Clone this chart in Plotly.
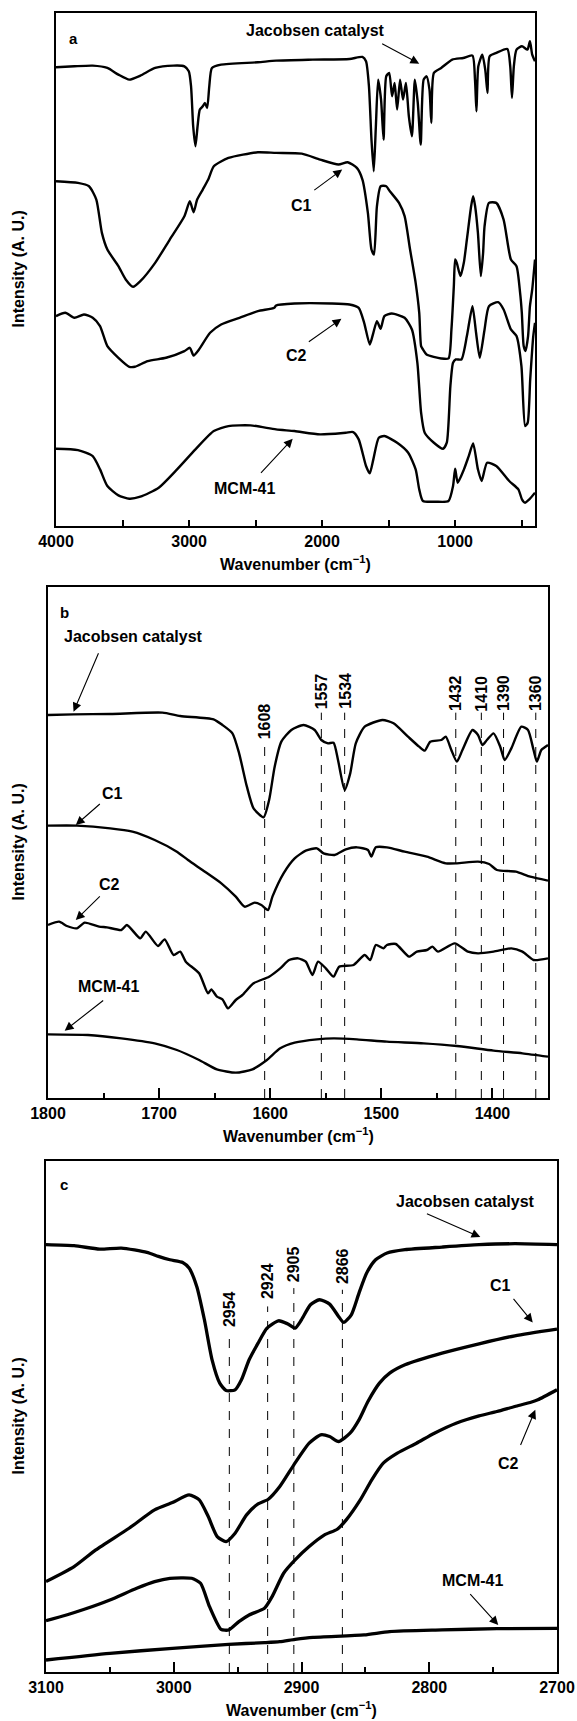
import plotly.graph_objects as go

W, H = 577, 1721
FONT = "Liberation Sans, Arial, sans-serif"

# ---------------- Panel a (4000-400 cm-1) ----------------
a_jac_wn = [4000,3862,3724,3614,3531,3449,3366,3255,3118,3035,3002,2985,2969,2952,2936,2919,2897,2881,2864,2848,
            2828,2759,2483,2346,2070,1794,1697,1670,1648,1629,1612,1596,1579,1557,1538,1518,1496,1474,1455,1436,
            1414,1392,1370,1348,1325,1303,1281,1259,1237,1215,1193,1179,1160,1105,1022,939,870,851,840,826,
            796,774,757,741,691,608,586,573,559,539,498,457,438,421,400]
a_jac_int = [1377,1380,1382,1375,1355,1340,1352,1375,1382,1380,1365,1320,1200,1140,1200,1250,1260,1270,1255,1320,
             1375,1385,1392,1397,1400,1402,1408,1395,1320,1160,1065,1200,1340,1280,1160,1350,1360,1290,1330,1250,
             1340,1280,1330,1230,1170,1340,1270,1145,1340,1350,1310,1210,1360,1375,1400,1405,1412,1340,1245,1380,
             1415,1370,1300,1410,1420,1432,1380,1285,1380,1430,1440,1430,1455,1415,1395]

a_c1_wn = [4000,3835,3752,3697,3655,3614,3531,3476,3421,3366,3255,3145,3035,2994,2966,2939,2897,2856,2814,2704,
           2483,2346,2153,2015,1877,1808,1739,1697,1656,1629,1610,1588,1560,1518,1491,1422,1380,1339,1297,1270,
           1256,1242,1215,1105,1050,1028,1010,1000,988,960,935,912,880,865,850,829,807,790,779,746,
           691,636,581,539,512,499,485,471,452,438,421,400]
a_c1_int = [1035,1030,1020,980,880,830,780,740,718,735,790,860,930,975,942,980,1010,1040,1080,1105,
            1122,1120,1118,1100,1085,1092,1075,1040,940,830,815,960,1020,1020,1005,970,930,830,730,640,
            540,530,515,503,503,590,720,800,790,750,790,860,960,990,960,880,750,820,900,970,
            970,920,800,780,700,640,540,525,570,660,710,800]

a_c2_wn = [4000,3930,3862,3790,3724,3669,3614,3531,3449,3407,3311,3173,3035,2994,2966,2925,2842,2759,2621,2483,
           2359,2346,2208,1932,1794,1725,1684,1642,1615,1588,1560,1532,1477,1380,1325,1284,1256,1229,1160,1091,
           1063,1036,1016,995,953,912,870,843,815,779,746,677,636,581,539,502,474,455,436,413,400]
a_c2_int = [630,640,625,635,625,600,540,505,478,478,495,505,525,535,512,530,580,605,625,645,
            655,662,668,668,665,655,610,545,580,615,592,630,638,625,590,490,340,280,250,232,
            250,420,490,500,500,570,660,580,505,590,660,672,650,590,570,480,300,310,440,570,610]

a_mcm_wn = [4000,3835,3724,3669,3614,3531,3449,3366,3228,3090,2952,2814,2704,2539,2346,2208,2015,1822,1767,1725,
            1670,1642,1615,1574,1532,1436,1353,1297,1270,1242,1146,1050,1016,1000,981,934,898,865,829,801,
            760,691,594,525,498,476,443,400]
a_mcm_int = [232,228,210,170,120,92,82,88,115,170,230,285,300,302,290,285,275,280,282,260,
             180,158,200,265,270,250,220,170,110,75,73,75,120,172,130,170,210,248,170,135,
             190,180,135,110,80,70,80,100]

# ---------------- Panel b (1800-1350 cm-1) ----------------
b_jac_wn = [1800,1777,1744,1697,1681,1651,1643,1634,1628,1621,1615,1606,1601,1596,1590,1581,1570,1560,1554,1548,
            1543,1539,1533,1528,1523,1515,1499,1489,1476,1466,1461,1456,1446,1442,1437,1432,1427,1418,1413,1409,
            1405,1399,1393,1389,1383,1374,1368,1363,1360,1356,1350]
b_jac_int = [1149,1151,1152,1156,1146,1136,1119,1094,1034,934,869,842,894,994,1069,1104,1119,1104,1074,1064,
             1066,1014,924,974,1064,1114,1134,1124,1084,1054,1042,1069,1074,1084,1044,1009,1044,1104,1089,1059,
             1074,1094,1054,1014,1049,1114,1104,1044,1009,1044,1059]

b_c1_wn = [1800,1774,1744,1724,1704,1684,1674,1661,1644,1631,1623,1614,1608,1602,1598,1588,1578,1568,1558,1552,
           1542,1532,1522,1512,1509,1505,1495,1479,1459,1442,1432,1413,1403,1396,1379,1366,1350]
b_c1_int = [817,817,809,799,774,739,714,684,644,604,574,586,579,564,604,674,719,742,749,734,
            729,746,752,744,724,752,752,739,724,704,704,709,702,684,679,664,652]

b_c2_wn = [1800,1790,1783,1774,1767,1754,1747,1734,1729,1717,1712,1701,1695,1687,1681,1676,1664,1656,1653,1648,
           1643,1638,1631,1625,1615,1601,1591,1583,1575,1568,1562,1557,1550,1543,1538,1525,1515,1510,1505,1498,
           1495,1487,1475,1468,1459,1454,1449,1434,1422,1413,1399,1383,1373,1363,1350]
b_c2_int = [519,529,516,509,526,514,512,504,519,479,499,456,476,429,439,409,374,314,326,304,
            296,269,294,309,344,364,389,414,419,409,369,409,389,364,394,399,429,414,459,449,
            459,462,424,439,444,454,439,464,439,434,439,449,439,414,419]

b_mcm_wn = [1800,1764,1734,1704,1684,1664,1648,1631,1616,1603,1591,1578,1558,1543,1522,1495,1462,1432,1399,1373,1350]
b_mcm_int = [191,189,179,164,144,114,86,76,86,114,149,166,176,179,176,169,164,156,142,134,124]

b_peak_pos = [1605, 1554, 1533, 1433, 1410, 1390, 1361]
b_peak_labels = ["1608", "1557", "1534", "1432", "1410", "1390", "1360"]
b_line_top = [1069, 1156, 1156, 1156, 1156, 1156, 1156]
b_label_y = [1129, 1221, 1221, 1214, 1214, 1214, 1214]

# ---------------- Panel c (3100-2700 cm-1) ----------------
c_jac_wn = [3100,3078,3058,3041,3021,3012,3003,2993,2988,2982,2976,2970,2964,2959,2952,2947,2941,2934,2927,2918,
            2911,2905,2900,2893,2886,2878,2871,2867,2861,2855,2849,2842,2833,2819,2790,2761,2733,2700]
c_jac_int = [1281,1278,1268,1271,1258,1246,1236,1228,1211,1156,1056,936,866,844,846,876,936,986,1031,1053,
             1044,1031,1056,1101,1116,1103,1066,1048,1071,1136,1196,1236,1256,1266,1274,1281,1284,1281]

c_c1_wn = [3100,3078,3061,3035,3015,3001,2988,2980,2973,2966,2959,2952,2943,2934,2926,2917,2906,2894,2885,2878,
           2871,2862,2855,2848,2839,2831,2819,2790,2761,2733,2700]
c_c1_int = [271,316,366,431,486,508,531,516,466,406,391,416,471,504,518,556,621,686,711,706,
            691,716,756,811,866,896,921,956,984,1008,1028]

c_c2_wn = [3100,3084,3070,3050,3029,3015,3003,2986,2979,2972,2963,2957,2949,2941,2929,2923,2914,2905,2894,2882,
           2872,2865,2854,2845,2836,2825,2810,2796,2779,2761,2747,2733,2721,2715,2700]
c_c2_int = [154,171,188,216,251,271,281,281,266,196,128,126,151,171,191,226,296,336,376,411,
            428,456,516,576,626,656,686,716,746,768,781,796,808,816,846]

c_mcm_wn = [3100,3050,3001,2957,2929,2917,2905,2891,2851,2831,2790,2747,2700]
c_mcm_int = [36,56,71,83,88,91,98,104,111,121,126,130,131]

c_peak_pos = [2956.5, 2926.5, 2906, 2868]
c_peak_labels = ["2954", "2924", "2905", "2866"]
c_line_top = [1006, 1096, 1151, 1146]
c_label_y = [1089, 1171, 1222, 1218]

# sample labels: (text, x, y, arrow tail x, tail y, head x, head y)
a_labels = [("Jacobsen catalyst", 2048, 1488, 1560, 1450, 1270, 1388),
            ("C1", 2158, 962, 2070, 1005, 1849, 1070),
            ("C2", 2194, 512, 2111, 550, 1855, 622),
            ("MCM-41", 2585, 112, 2470, 155, 2221, 262)]
b_labels = [("Jacobsen catalyst", 1723, 1384, 1754, 1339, 1777, 1159),
            ("C1", 1742, 914, 1752, 886, 1775, 819),
            ("C2", 1745, 641, 1752, 609, 1775, 534),
            ("MCM-41", 1746, 334, 1749, 296, 1785, 202)]
c_labels = [("Jacobsen catalyst", 2772, 1411, 2803, 1376, 2760, 1304),
            ("C1", 2744, 1159, 2735, 1123, 2719, 1048),
            ("C2", 2738, 626, 2729, 676, 2717, 786),
            ("MCM-41", 2766, 273, 2769, 238, 2746, 141)]

panel_letters = [("a", 3868, 1462), ("b", 1785, 1457), ("c", 3086, 1461)]

# pixel layout of the three plot boxes (left, right, top, bottom)
boxes = [(56, 535, 13, 526), (48, 548, 587, 1098), (46, 557, 1161, 1672)]
yranges = [[0, 1540], [0, 1533], [0, 1532]]
xranges = [[4000, 400], [1800, 1350], [3100, 2700]]

fig = go.Figure()
bold = dict(family=FONT, size=16, color="black", weight="bold")

panels = [
    [(a_jac_wn, a_jac_int), (a_c1_wn, a_c1_int), (a_c2_wn, a_c2_int), (a_mcm_wn, a_mcm_int)],
    [(b_jac_wn, b_jac_int), (b_c1_wn, b_c1_int), (b_c2_wn, b_c2_int), (b_mcm_wn, b_mcm_int)],
    [(c_jac_wn, c_jac_int), (c_c1_wn, c_c1_int), (c_c2_wn, c_c2_int), (c_mcm_wn, c_mcm_int)],
]
widths = [2.4, 2.4, 3.3]
for i, series in enumerate(panels):
    xa = "x" if i == 0 else f"x{i+1}"
    ya = "y" if i == 0 else f"y{i+1}"
    for xs, ys in series:
        fig.add_trace(go.Scatter(x=xs, y=ys, mode="lines", xaxis=xa, yaxis=ya,
                                 line=dict(color="black", width=widths[i], shape="spline", smoothing=0.6),
                                 showlegend=False, hoverinfo="skip"))

tick_specs = [
    dict(tickvals=[4000, 3000, 2000, 1000],
         ticktext=["4000", "3000", "2000", "1000"], ticklen=6,
         minor=dict(tickvals=[3500, 2500, 1500, 500], ticks="inside", ticklen=6, tickwidth=2, tickcolor="black")),
    dict(tickvals=[1800, 1700, 1600, 1500, 1400],
         ticktext=["1800", "1700", "1600", "1500", "1400"], ticklen=10,
         minor=dict(tickvals=[1750, 1650, 1550, 1450], ticks="inside", ticklen=5, tickwidth=2, tickcolor="black")),
    dict(tickvals=[3100, 3000, 2900, 2800, 2700],
         ticktext=["3100", "3000", "2900", "2800", "2700"], ticklen=10,
         minor=dict(tickvals=[3050, 2950, 2850, 2750], ticks="inside", ticklen=5, tickwidth=2, tickcolor="black")),
]

layout = dict(width=W, height=H, margin=dict(l=0, r=0, t=0, b=0, autoexpand=False),
              plot_bgcolor="white", paper_bgcolor="white", showlegend=False)
annotations = []
shapes = []
for i, (l, r, t, b) in enumerate(boxes):
    sfx = "" if i == 0 else str(i + 1)
    ts = tick_specs[i]
    xax = dict(domain=[l / W, r / W], anchor="y" + sfx, range=xranges[i], automargin=False,
               tickmode="array", tickvals=ts["tickvals"], ticktext=ts["ticktext"],
               ticks="inside", ticklen=ts["ticklen"], tickwidth=2, tickcolor="black",
               tickfont=bold, showline=True, mirror=True, linewidth=2, linecolor="black",
               showgrid=False, zeroline=False, fixedrange=True, minor=ts["minor"])
    yax = dict(domain=[1 - b / H, 1 - t / H], anchor="x" + sfx, range=yranges[i], automargin=False,
               showticklabels=False, ticks="", showline=True, mirror=True, linewidth=2,
               linecolor="black", showgrid=False, zeroline=False, fixedrange=True)
    layout["xaxis" + sfx] = xax
    layout["yaxis" + sfx] = yax
    # axis titles
    annotations.append(dict(xref="paper", yref="paper", x=((l + r) / 2) / W, y=1 - (b + 37) / H,
                            text="Wavenumber (cm<sup>\u22121</sup>)", showarrow=False,
                            xanchor="center", yanchor="middle", font=bold))
    annotations.append(dict(xref="paper", yref="paper", x=18 / W, y=1 - ((t + b) / 2) / H,
                            text="Intensity (A. U.)", textangle=-90, showarrow=False,
                            xanchor="center", yanchor="middle", font=bold))

for i, labels in enumerate([a_labels, b_labels, c_labels]):
    sfx = "" if i == 0 else str(i + 1)
    xr, yr = "x" + sfx, "y" + sfx
    for (txt, tx, ty, ax, ay, hx, hy) in labels:
        annotations.append(dict(xref=xr, yref=yr, x=tx, y=ty, text=txt, showarrow=False,
                                xanchor="center", yanchor="middle", font=bold))
        annotations.append(dict(xref=xr, yref=yr, axref=xr, ayref=yr, x=hx, y=hy, ax=ax, ay=ay,
                                text="", showarrow=True, arrowhead=2, arrowsize=1.6,
                                arrowwidth=1.1, arrowcolor="black"))
    lt, lx, ly = panel_letters[i]
    annotations.append(dict(xref=xr, yref=yr, x=lx, y=ly, text=lt, showarrow=False,
                            xanchor="center", yanchor="middle", font=dict(bold, size=15)))

for sfx, pos, labs, tops, ly in [("2", b_peak_pos, b_peak_labels, b_line_top, b_label_y),
                                  ("3", c_peak_pos, c_peak_labels, c_line_top, c_label_y)]:
    for p, lab, top, yy in zip(pos, labs, tops, ly):
        shapes.append(dict(type="line", xref="x" + sfx, yref="y" + sfx, x0=p, x1=p, y0=0, y1=top,
                           line=dict(color="black", width=1, dash="dash")))
        annotations.append(dict(xref="x" + sfx, yref="y" + sfx, x=p, y=yy, text=lab, textangle=-90,
                                showarrow=False, xanchor="center", yanchor="middle", font=bold))

layout["annotations"] = annotations
layout["shapes"] = shapes
fig.update_layout(**layout)
fig.write_html("out.html", config={"displayModeBar": False},
               post_script="document.body.style.margin='0px';document.body.style.overflow='hidden';")
